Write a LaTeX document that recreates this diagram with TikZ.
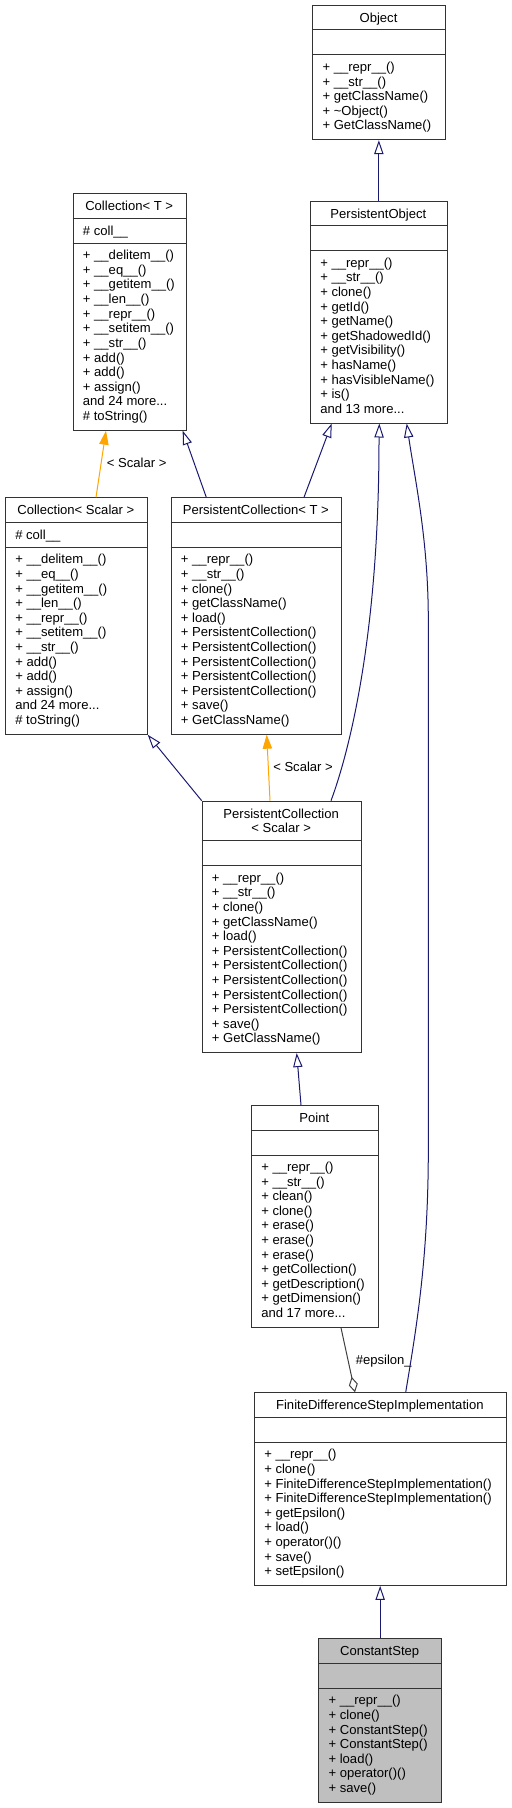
\documentclass[tikz,border=0pt]{standalone}
\usepackage{fontspec}
\setmainfont{Liberation Sans}
\usetikzlibrary{arrows.meta,calc}

\definecolor{edgeblue}{HTML}{191970}
\definecolor{edgeorange}{HTML}{FFA500}
\definecolor{edgegray}{HTML}{404040}
\definecolor{boxgray}{HTML}{BFBFBF}

\begin{document}
\begin{tikzpicture}[x=0.75pt, y=-0.75pt,
    font=\fontsize{9.8}{10.5}\selectfont,
    classbox/.style={rectangle, draw=black!80, line width=0.75pt, anchor=north west, inner sep=0pt},
    sepline/.style={draw=black!80, line width=0.75pt},
    member/.style={anchor=base west, inner sep=0pt},
    inherit/.style={draw=edgeblue, line width=0.75pt, -{Triangle[open, length=10.5pt, width=7pt]}},
    tmplinst/.style={draw=edgeorange, line width=0.75pt, -{Triangle[length=10.5pt, width=7pt, fill=edgeorange]}},
    aggreg/.style={draw=edgegray, line width=0.75pt, -{Diamond[open, length=11.8pt, width=6.8pt]}},
    edgelabel/.style={anchor=base west, inner sep=0pt}]
    % --- Configuration ---
    \def\titleH{25}   % Height of the title compartment
    \def\attrH{25}    % Height of the attribute compartment
    \def\rowH{14.6}   % Distance between two member lines
    \def\padX{10}     % Left padding of the member lines
    \def\moredots{...} % kept out of the foreach lists

    % #1 name, #2 x, #3 y, #4 width, #5 lines, #6 fill, #7 title, #8 attribute, #9 methods
    \def\umlclass#1#2#3#4#5#6#7#8#9{%
        \pgfmathsetmacro\boxH{\titleH+\attrH+25.8+(#5-1)*\rowH}
        \node[classbox, fill=#6, minimum width=#4*0.75pt, minimum height=\boxH*0.75pt] (#1) at (#2,#3) {};
        \draw[sepline] ({#2},{#3+\titleH}) -- ++(#4,0);
        \draw[sepline] ({#2},{#3+\titleH+\attrH}) -- ++(#4,0);
        \node[anchor=north, align=center, inner sep=0pt] (#1-title) at ({#2+#4/2},{#3+7.6}) {#7};
        \node[member] (#1-attr) at ({#2+\padX},{#3+\titleH+17}) {#8};
        \foreach \m [count=\i] in {#9} {
            \node[member] (#1-m\i) at ({#2+\padX},{#3+\titleH+\attrH+16.5+(\i-1)*\rowH}) {\m};
        }
    }

    \useasboundingbox (0,0) rectangle (511,1808);

    % --- Classes ---
    \umlclass{obj}{312.3}{5}{132.4}{5}{white}{Object}{}
        {+ \_\_repr\_\_(), + \_\_str\_\_(), + getClassName(), + \textasciitilde Object(), + GetClassName()}

    \umlclass{collT}{72.7}{193.3}{113}{12}{white}{Collection< T >}{\# coll\_\_}
        {+ \_\_delitem\_\_(), + \_\_eq\_\_(), + \_\_getitem\_\_(), + \_\_len\_\_(), + \_\_repr\_\_(),
         + \_\_setitem\_\_(), + \_\_str\_\_(), + add(), + add(), + assign(), and 24 more\moredots, \# toString()}

    \umlclass{pobj}{310}{200.7}{136.7}{11}{white}{PersistentObject}{}
        {+ \_\_repr\_\_(), + \_\_str\_\_(), + clone(), + getId(), + getName(), + getShadowedId(),
         + getVisibility(), + hasName(), + hasVisibleName(), + is(), and 13 more\moredots}

    \umlclass{collS}{5}{497.3}{141.7}{12}{white}{Collection< Scalar >}{\# coll\_\_}
        {+ \_\_delitem\_\_(), + \_\_eq\_\_(), + \_\_getitem\_\_(), + \_\_len\_\_(), + \_\_repr\_\_(),
         + \_\_setitem\_\_(), + \_\_str\_\_(), + add(), + add(), + assign(), and 24 more\moredots, \# toString()}

    \umlclass{pcollT}{170.7}{497.3}{170.3}{12}{white}{PersistentCollection< T >}{}
        {+ \_\_repr\_\_(), + \_\_str\_\_(), + clone(), + getClassName(), + load(),
         + PersistentCollection(), + PersistentCollection(), + PersistentCollection(),
         + PersistentCollection(), + PersistentCollection(), + save(), + GetClassName()}

    \def\titleH{40}
    \umlclass{pcollS}{201.7}{800.7}{159}{12}{white}{PersistentCollection\\< Scalar >}{}
        {+ \_\_repr\_\_(), + \_\_str\_\_(), + clone(), + getClassName(), + load(),
         + PersistentCollection(), + PersistentCollection(), + PersistentCollection(),
         + PersistentCollection(), + PersistentCollection(), + save(), + GetClassName()}
    \def\titleH{25}

    \umlclass{point}{251}{1105}{126.7}{11}{white}{Point}{}
        {+ \_\_repr\_\_(), + \_\_str\_\_(), + clean(), + clone(), + erase(), + erase(), + erase(),
         + getCollection(), + getDescription(), + getDimension(), and 17 more\moredots}

    \umlclass{fdsi}{254}{1392.3}{251.7}{9}{white}{FiniteDifferenceStepImplementation}{}
        {+ \_\_repr\_\_(), + clone(), + FiniteDifferenceStepImplementation(),
         + FiniteDifferenceStepImplementation(), + getEpsilon(), + load(), + operator()(),
         + save(), + setEpsilon()}

    \umlclass{cstep}{318.3}{1638.3}{122.7}{7}{boxgray}{ConstantStep}{}
        {+ \_\_repr\_\_(), + clone(), + ConstantStep(), + ConstantStep(), + load(),
         + operator()(), + save()}

    % --- Inheritance ---
    \draw[inherit] (pobj.north) -- (pobj.north |- obj.south);
    \draw[inherit] ($(pcollT.north west)+(35.6,0)$) -- ($(collT.south east)+(-4,0)$);
    \draw[inherit] ($(pcollT.north west)+(133.3,0)$) -- ($(pobj.south west)+(21.7,0)$);
    \draw[inherit] (pcollS.north west) -- (collS.south east);
    \draw[inherit] ($(pcollS.north west)+(129.3,0)$) .. controls (348,755) and (379,640) .. (379,440)
        -- ($(pobj.south west)+(69.3,0)$);
    \draw[inherit] ($(point.north west)+(50,0)$) -- ($(pcollS.south west)+(95,0)$);
    \draw[inherit] ($(fdsi.north west)+(151.7,0)$) .. controls (416,1330) and (428.3,1260) .. (428.3,1150)
        -- (428.3,620) .. controls (428.3,540) and (415,480) .. ($(pobj.south west)+(96.7,0)$);
    \draw[inherit] (cstep.north) -- (cstep.north |- fdsi.south);

    % --- Template instances ---
    \draw[tmplinst] ($(collS.north west)+(91,0)$) -- ($(collT.south west)+(33.3,0)$);
    \node[edgelabel] (lblCollS) at (106.7,467) {< Scalar >};
    \draw[tmplinst] ($(pcollS.north west)+(68.3,0)$) -- ($(pcollT.south west)+(96,0)$);
    \node[edgelabel] (lblPCollS) at (273,771) {< Scalar >};

    % --- Aggregation ---
    \draw[aggreg] ($(point.south west)+(90,0)$) -- ($(fdsi.north west)+(101,0)$);
    \node[edgelabel] (lblEps) at (355.5,1364) {\#epsilon\_};

\end{tikzpicture}
\end{document}
